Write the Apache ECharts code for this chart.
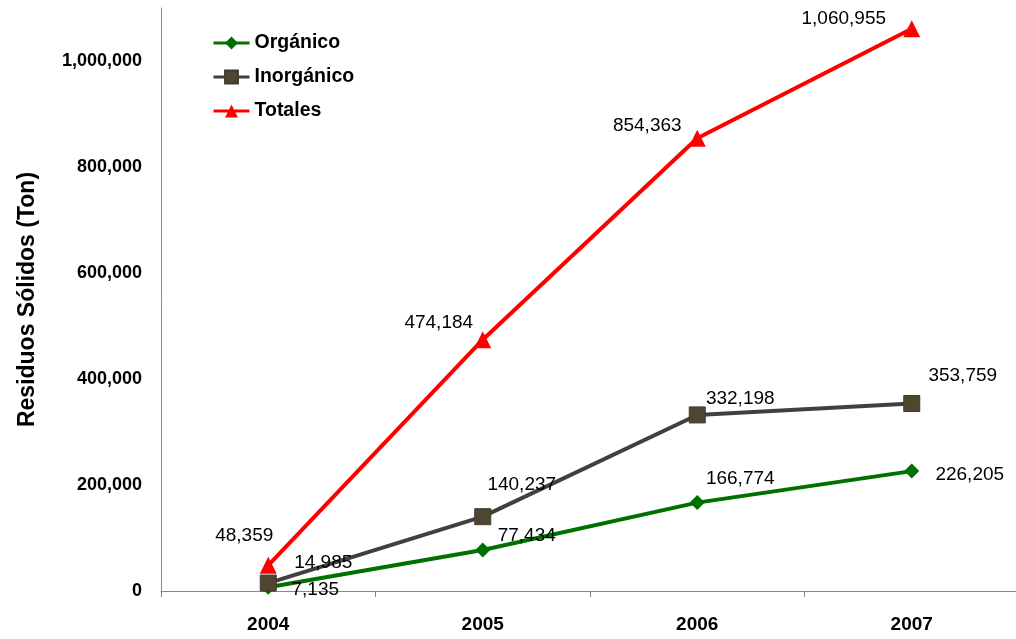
<!DOCTYPE html>
<html>
<head>
<meta charset="utf-8">
<script src="https://cdn.jsdelivr.net/npm/echarts@6/dist/echarts.min.js"></script>
<style>
html,body{margin:0;padding:0;background:#fff;overflow:hidden;}
#c{width:1019px;height:639px;}
</style>
</head>
<body>
<div id="c"></div>
<script>
var years = ['2004', '2005', '2006', '2007'];
var organico = [7135, 77434, 166774, 226205];
var inorganico = [14985, 140237, 332198, 353759];
var totales = [48359, 474184, 854363, 1060955];
var seriesNames = ['Orgánico', 'Inorgánico', 'Totales'];

// label offsets (style only)
var offOrg = [[47, 3], [44, -14], [43, -24], [58, 4]];
var offInorg = [[55, -20], [39, -32], [43, -16], [51, -28]];
var offTot = [[-24, -30], [-44, -17], [-50, -12], [-68, -10]];

function fmt(v) { return Number(v).toLocaleString('en-US'); }
function build(vals, offs) {
  return vals.map(function (v, i) {
    return { value: v, label: { offset: offs[i] } };
  });
}
var labelStyle = {
  show: true, position: 'inside', color: '#000',
  fontFamily: 'Liberation Sans, Arial, sans-serif', fontSize: 19,
  formatter: function (p) { return fmt(p.value); }
};

var chart = echarts.init(document.getElementById('c'));
chart.setOption({
  animation: false,
  backgroundColor: '#fff',
  grid: { left: 161, right: 0, top: 8, bottom: 48, containLabel: false },
  legend: {
    orient: 'vertical', left: 207, top: 28, itemWidth: 36, itemHeight: 16, itemGap: 14,
    data: seriesNames,
    lineStyle: { width: 3 },
    textStyle: { fontFamily: 'Liberation Sans, Arial, sans-serif', fontWeight: 'bold', fontSize: 19.5, color: '#000' }
  },
  xAxis: {
    type: 'category', data: years, boundaryGap: true,
    axisLine: { lineStyle: { color: '#888', width: 1 } },
    axisTick: { show: true, inside: false, length: 6, lineStyle: { color: '#888' } },
    axisLabel: { margin: 24, color: '#000', fontWeight: 'bold', fontSize: 19, fontFamily: 'Liberation Sans, Arial, sans-serif' },
    splitLine: { show: false }
  },
  yAxis: {
    type: 'value', min: 0, max: 1100000, interval: 200000,
    name: 'Residuos Sólidos (Ton)', nameLocation: 'middle', nameGap: 122,
    nameTextStyle: { color: '#000', fontWeight: 'bold', fontSize: 23, fontFamily: 'Liberation Sans, Arial, sans-serif' },
    axisLine: { show: true, lineStyle: { color: '#888', width: 1 } },
    axisTick: { show: false },
    splitLine: { show: false },
    axisLabel: {
      margin: 19, color: '#000', fontWeight: 'bold', fontSize: 18, fontFamily: 'Liberation Sans, Arial, sans-serif',
      formatter: function (v) { return v > 1000000 ? '' : fmt(v); }
    }
  },
  series: [
    {
      name: seriesNames[0], type: 'line', data: build(organico, offOrg),
      symbol: 'diamond', symbolSize: 15, z: 2,
      lineStyle: { color: '#007000', width: 4 },
      itemStyle: { color: '#007000' },
      label: labelStyle
    },
    {
      name: seriesNames[1], type: 'line', data: build(inorganico, offInorg),
      symbol: 'rect', symbolSize: 16, z: 4,
      lineStyle: { color: '#404040', width: 4 },
      itemStyle: { color: '#4f4632', borderColor: '#3c3a35', borderWidth: 1 },
      label: labelStyle
    },
    {
      name: seriesNames[2], type: 'line', data: build(totales, offTot),
      symbol: 'triangle', symbolSize: 17, z: 3,
      lineStyle: { color: '#ff0000', width: 4 },
      itemStyle: { color: '#ff0000' },
      label: labelStyle
    }
  ]
});
</script>
</body>
</html>
